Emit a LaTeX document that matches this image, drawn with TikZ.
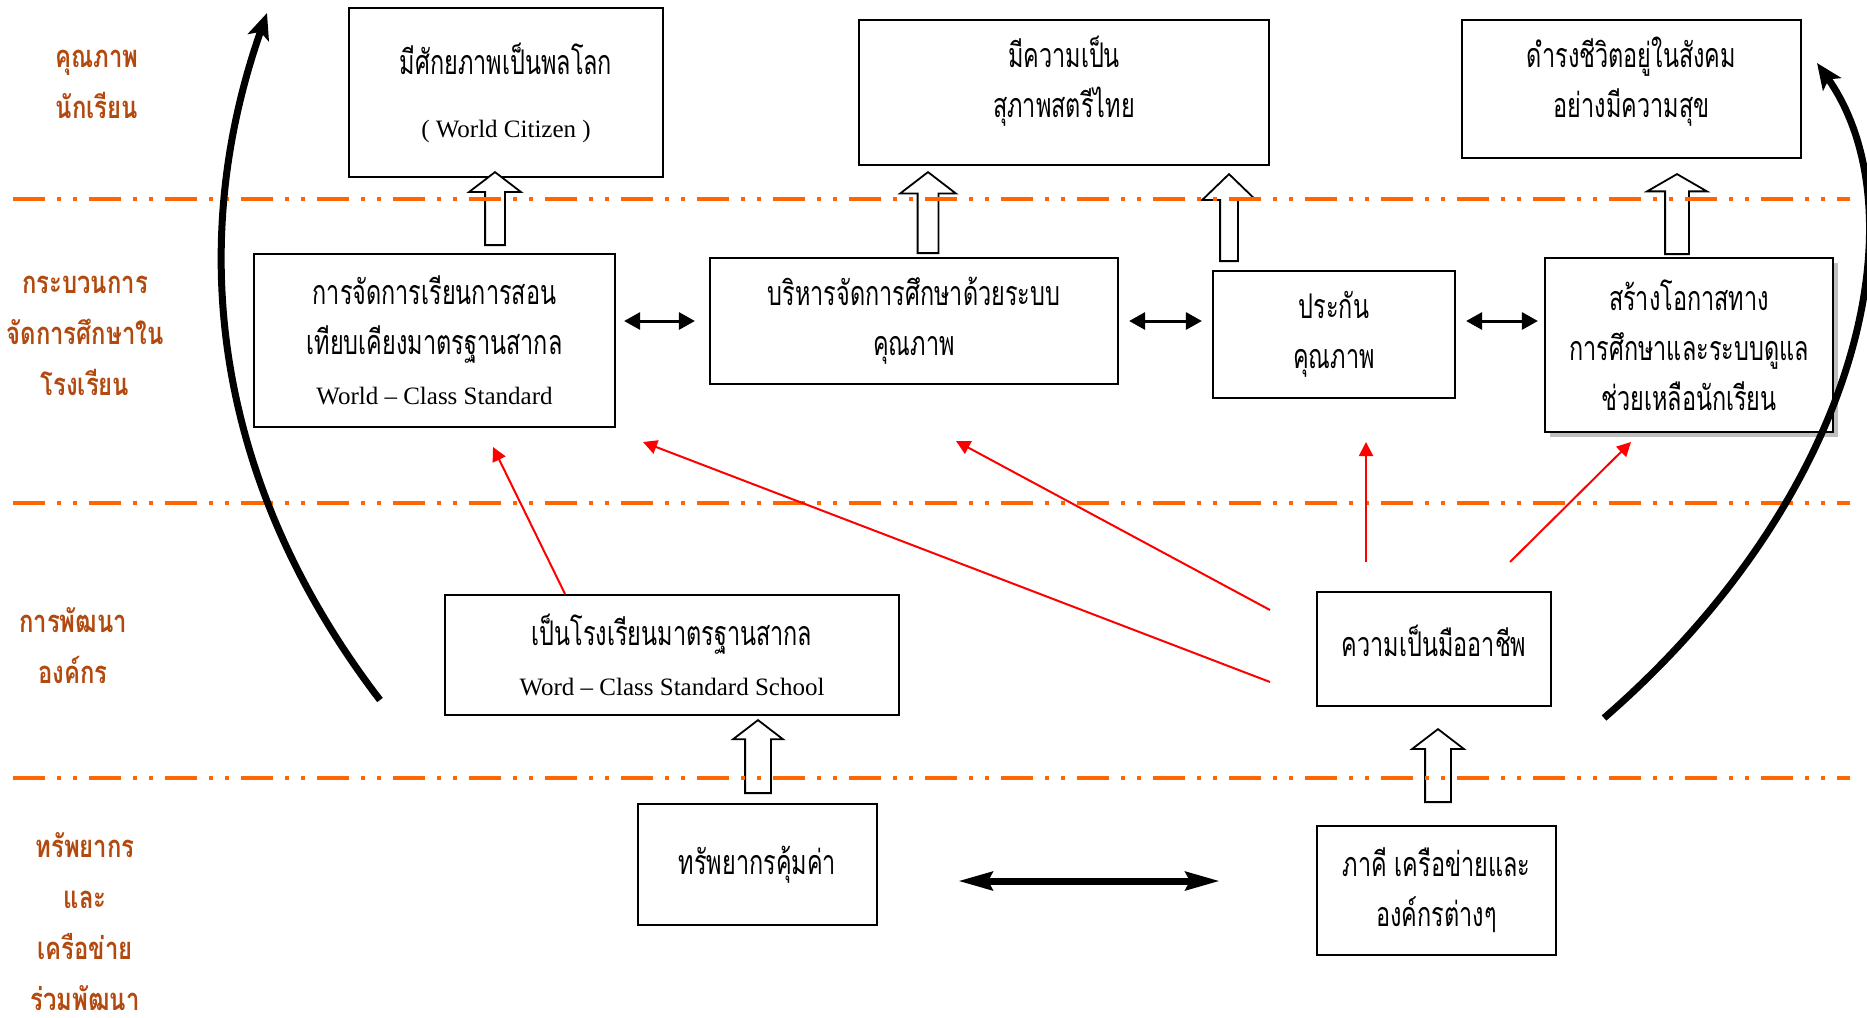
\documentclass[tikz,border=0pt]{standalone}
\usepackage{fontspec}
\setmainfont{Liberation Serif}
\newfontfamily\thai[Script=Thai,FakeStretch=0.69]{Loma}
\newfontfamily\thaihead[Script=Thai,FakeStretch=0.77]{Loma}
\usetikzlibrary{arrows.meta,shapes.arrows,shadows,calc}
\definecolor{dashorange}{RGB}{255,102,0}
\definecolor{labbrown}{RGB}{178,74,16}
\newcommand\en[1]{{\rmfamily\fontsize{12.5}{25}\selectfont #1}}

\begin{document}
\begin{tikzpicture}[x=0.5pt,y=-0.5pt,
        boxtext/.style={align=center, font=\thai\fontsize{17}{25}\selectfont},
        box/.style={boxtext, draw, fill=white, line width=1.1pt, inner sep=0pt},
        lab/.style={align=center, text=labbrown, font=\thaihead\bfseries\fontsize{15.5}{25.5}\selectfont},
        hollow/.style={single arrow, draw, fill=white, line width=0.9pt, rotate=90, anchor=tail, inner xsep=0pt, single arrow tip angle=105},
        divider/.style={dashorange, line width=2pt, dash pattern=on 16pt off 6pt on 2pt off 6pt on 2pt off 6pt},
        redarr/.style={red, line width=1pt, -{Triangle[length=7pt,width=7pt]}},
        dbl/.style={line width=1.5pt, {Triangle[length=8pt,width=8.5pt]}-{Triangle[length=8pt,width=8.5pt]}},
        bigdbl/.style={line width=3.5pt, {Stealth[length=17pt,width=9pt,inset=2pt]}-{Stealth[length=17pt,width=9pt,inset=2pt]}},
        curve/.style={line width=3.5pt, -{Stealth[length=13pt,width=11pt,inset=3pt]}}]
        \useasboundingbox (0,0) rectangle (1867,1017);
        \node[lab] (q) at (97,84) {คุณภาพ\\นักเรียน};
        \node[lab] (p) at (85,336) {กระบวนการ\\จัดการศึกษาใน\\โรงเรียน};
        \node[lab] (o) at (73,646) {การพัฒนา\\องค์กร};
        \node[lab] (r) at (85,922) {ทรัพยากร\\และ\\เครือข่าย\\ร่วมพัฒนา};
        \node[box, minimum width=157pt, minimum height=84.5pt] (A1) at (506,92.5) {มีศักยภาพเป็นพลโลก\\[6.5pt]\en{( World Citizen )}};
        \node[box, minimum width=205pt, minimum height=72.5pt, label={[boxtext, yshift=5.5pt]center:มีความเป็น\\สุภาพสตรีไทย}] (A2) at (1064,92.5) {};
        \node[box, minimum width=169.5pt, minimum height=69pt, label={[boxtext, yshift=3.5pt]center:ดำรงชีวิตอยู่ในสังคม\\อย่างมีความสุข}] (A3) at (1631.5,89) {};
        \node[box, minimum width=180.5pt, minimum height=86.5pt] (B1) at (434.5,340.5) {การจัดการเรียนการสอน\\เทียบเคียงมาตรฐานสากล\\\en{World – Class Standard}};
        \node[box, minimum width=204pt, minimum height=63pt] (B2) at (914,321) {บริหารจัดการศึกษาด้วยระบบ\\คุณภาพ};
        \node[box, minimum width=121pt, minimum height=63.5pt] (B3) at (1334,334.5) {ประกัน\\คุณภาพ};
        \node[box, minimum width=144pt, minimum height=87pt, drop shadow={opacity=1, fill=black!25, shadow xshift=2.5pt, shadow yshift=-2.5pt}] (B4) at (1689,345) {สร้างโอกาสทาง\\การศึกษาและระบบดูแล\\ช่วยเหลือนักเรียน};
        \node[box, minimum width=227pt, minimum height=60pt] (C1) at (672,655) {เป็นโรงเรียนมาตรฐานสากล\\\en{Word – Class Standard School}};
        \node[box, minimum width=117pt, minimum height=57pt, label={[boxtext, yshift=4pt]center:ความเป็นมืออาชีพ}] (C2) at (1434,649) {};
        \node[box, minimum width=119.5pt, minimum height=60.5pt] (D1) at (757.5,864.5) {ทรัพยากรคุ้มค่า};
        \node[box, minimum width=119.5pt, minimum height=64.5pt] (D2) at (1436.5,890.5) {ภาคี เครือข่ายและ\\องค์กรต่างๆ};
        \node[hollow, minimum height=36.5pt, inner ysep=4.5pt, single arrow head extend=8pt] (u1) at (495,246) {};
        \node[hollow, minimum height=40.5pt, inner ysep=4.75pt, single arrow head extend=8.75pt] (u2) at (928,254) {};
        \node[hollow, minimum height=43.5pt, inner ysep=4pt, single arrow head extend=9pt, single arrow tip angle=92] (u3) at (1229,262) {};
        \node[hollow, minimum height=40pt, inner ysep=5.5pt, single arrow head extend=9pt, single arrow tip angle=120] (u4) at (1677,255) {};
        \node[hollow, minimum height=36.5pt, inner ysep=6pt, single arrow head extend=6pt] (u5) at (758,794) {};
        \node[hollow, minimum height=36.5pt, inner ysep=6pt, single arrow head extend=6.5pt] (u6) at (1438,803) {};
        \foreach \y in {199,503,778} \draw[divider] (13,\y) -- (1850,\y);
        \coordinate (l0) at (380,700);
        \coordinate (l1) at (267,13);
        \coordinate (k0) at (1604,718);
        \coordinate (k1) at (1817,63);
        \draw[curve] (l0) .. controls (222,494) and (181,258) .. (l1);
        \draw[curve] (k0) .. controls (1861,495) and (1922,212) .. (k1);
        \draw[dbl, shorten <=4pt, shorten >=7pt] (B1.east |- B2.west) -- (B2.west);
        \draw[dbl, shorten <=5pt, shorten >=5pt] (B2.east) -- (B2.east -| B3.west);
        \draw[dbl, shorten <=5pt, shorten >=3pt] (B3.east |- B2.east) -- (B4.west |- B2.east);
        \draw[bigdbl] ($(D1.east)+(80,16.5)$) -- ($(D2.west)+(-96,-9.5)$);
        \coordinate (t1) at (493,447);
        \coordinate (s2) at (1270,610);
        \coordinate (t2) at (956,441);
        \coordinate (s3) at (1270,682);
        \coordinate (t3) at (643,442);
        \coordinate (s4) at (1366,562);
        \coordinate (t4) at (1366,442);
        \coordinate (s5) at (1510,562);
        \coordinate (t5) at (1631,442);
        \draw[redarr] ([xshift=-53.5pt]C1.north) -- (t1);
        \draw[redarr] (s2) -- (t2);
        \draw[redarr] (s3) -- (t3);
        \draw[redarr] (s4) -- (t4);
        \draw[redarr] (s5) -- (t5);
\end{tikzpicture}
\end{document}
